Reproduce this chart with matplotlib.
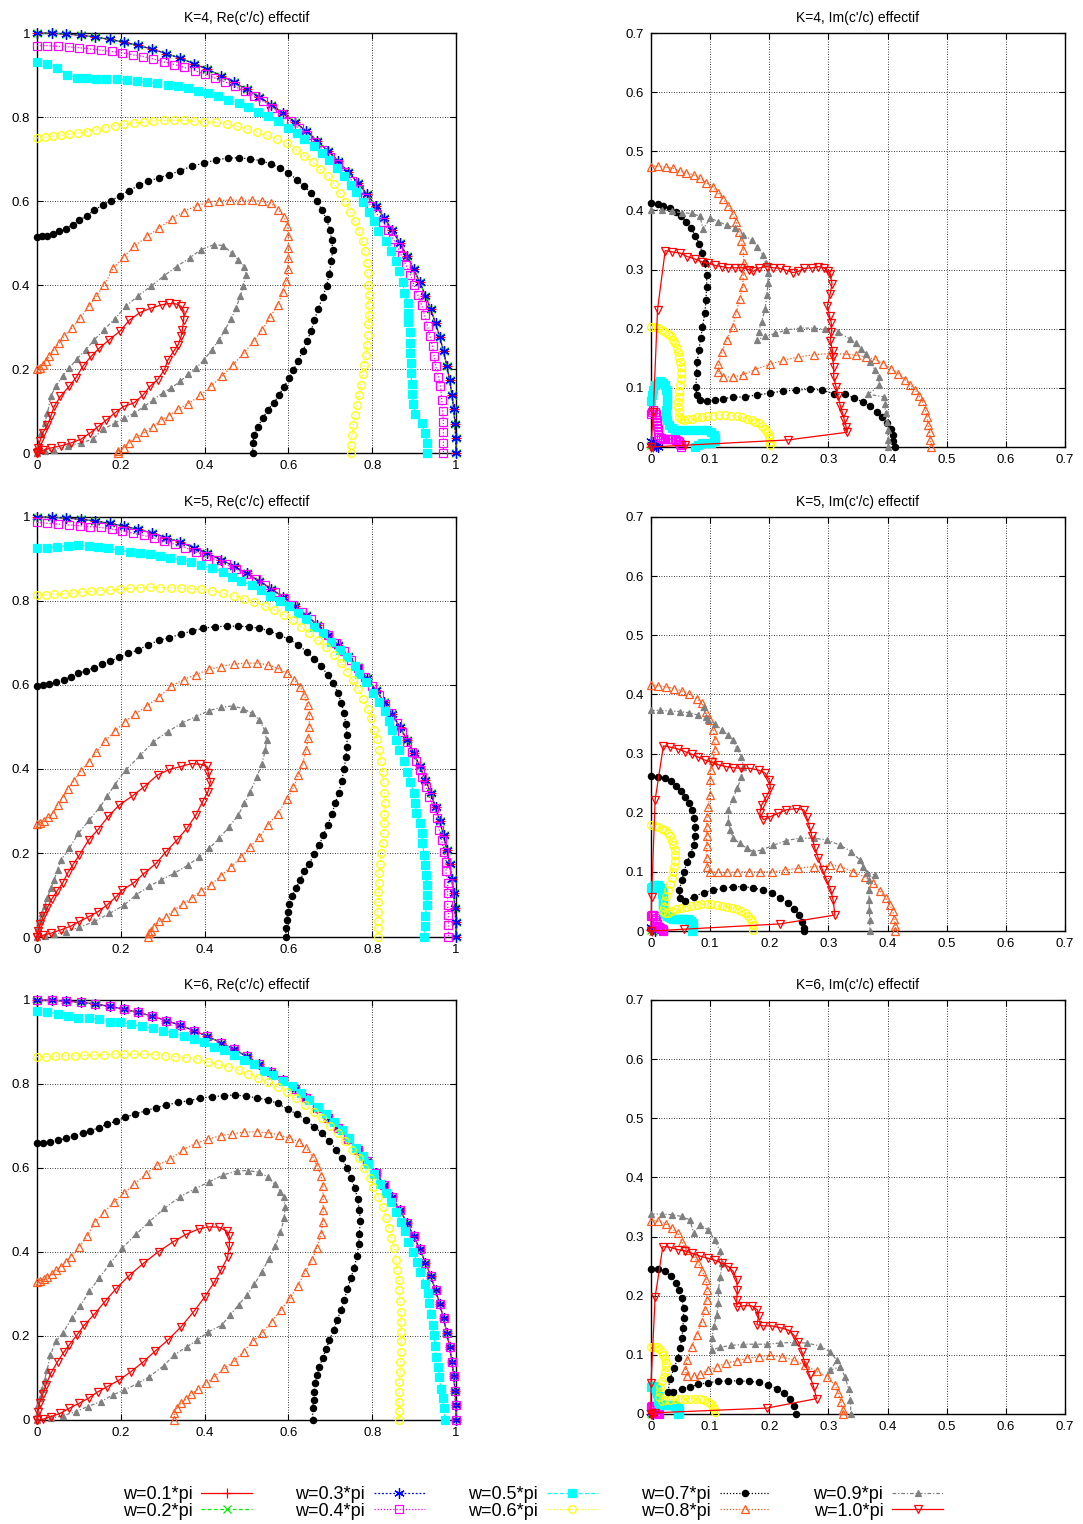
import matplotlib
matplotlib.use("Agg")
import matplotlib.pyplot as plt
from matplotlib.ticker import MultipleLocator, FuncFormatter

plt.rcParams['font.family'] = ['Liberation Sans', 'DejaVu Sans']

# legend labels, one per w
w_labels = ['w=0.1*pi', 'w=0.2*pi', 'w=0.3*pi', 'w=0.4*pi', 'w=0.5*pi',
            'w=0.6*pi', 'w=0.7*pi', 'w=0.8*pi', 'w=0.9*pi', 'w=1.0*pi']

# ---- data (x, y) ----
# points on the unit quarter circle (w=0.1, 0.2, 0.3 sit on it)
arc_pts = [(0,1),(0.0349,0.9994),(0.0698,0.9976),(0.1045,0.9945),(0.1392,0.9903),(0.1736,0.9848),
           (0.2079,0.9781),(0.2419,0.9703),(0.2756,0.9613),(0.309,0.9511),(0.342,0.9397),(0.3746,0.9272),
           (0.4067,0.9135),(0.4384,0.8988),(0.4695,0.8829),(0.5,0.866),(0.5299,0.848),(0.5592,0.829),
           (0.5878,0.809),(0.6157,0.788),(0.6428,0.766),(0.6691,0.7431),(0.6947,0.7193),(0.7193,0.6947),
           (0.7431,0.6691),(0.766,0.6428),(0.788,0.6157),(0.809,0.5878),(0.829,0.5592),(0.848,0.5299),
           (0.866,0.5),(0.8829,0.4695),(0.8988,0.4384),(0.9135,0.4067),(0.9272,0.3746),(0.9397,0.342),
           (0.9511,0.309),(0.9613,0.2756),(0.9703,0.2419),(0.9781,0.2079),(0.9848,0.1736),(0.9903,0.1392),
           (0.9945,0.1045),(0.9976,0.0698),(0.9994,0.0349),(1,0)]

# K=4, Re
re4_w04 = [(0,0.970),(0.025,0.970),(0.051,0.968),(0.076,0.967),(0.1,0.965),(0.127,0.962),(0.153,0.959),
           (0.178,0.956),(0.203,0.953),(0.229,0.948),(0.254,0.944),(0.278,0.938),(0.304,0.931),(0.328,0.925),
           (0.352,0.918),(0.378,0.91),(0.4,0.902),(0.424,0.893),(0.448,0.884),(0.472,0.873),(0.496,0.861),
           (0.518,0.85),(0.54,0.838),(0.562,0.822),(0.584,0.808),(0.606,0.79),(0.625,0.774),(0.645,0.757),
           (0.664,0.74),(0.683,0.722),(0.7,0.705),(0.718,0.687),(0.735,0.668),(0.752,0.648),(0.768,0.628),
           (0.783,0.607),(0.797,0.588),(0.812,0.568),(0.826,0.55),(0.838,0.53),(0.85,0.51),(0.861,0.49),
           (0.871,0.468),(0.881,0.447),(0.891,0.424),(0.9,0.4),(0.909,0.376),(0.918,0.353),(0.925,0.328),
           (0.932,0.302),(0.938,0.278),(0.944,0.254),(0.948,0.23),(0.952,0.206),(0.958,0.182),(0.963,0.159),
           (0.966,0.127),(0.968,0.1),(0.97,0.075),(0.97,0.05),(0.97,0.025),(0.97,0.0)]
re4_w05 = [(0,0.932),(0.024,0.927),(0.048,0.917),(0.072,0.901),(0.095,0.893),(0.117,0.893),(0.141,0.891),
           (0.165,0.89),(0.19,0.89),(0.214,0.888),(0.238,0.885),(0.262,0.883),(0.286,0.88),(0.312,0.876),
           (0.336,0.873),(0.36,0.868),(0.384,0.863),(0.409,0.857),(0.433,0.849),(0.457,0.841),(0.481,0.833),
           (0.504,0.823),(0.528,0.813),(0.551,0.802),(0.574,0.79),(0.598,0.775),(0.62,0.763),(0.638,0.748),
           (0.66,0.73),(0.679,0.714),(0.698,0.697),(0.716,0.679),(0.733,0.66),(0.749,0.639),(0.761,0.621),
           (0.777,0.597),(0.792,0.574),(0.804,0.552),(0.815,0.529),(0.833,0.504),(0.845,0.48),(0.857,0.456),
           (0.863,0.433),(0.873,0.407),(0.877,0.381),(0.885,0.357),(0.886,0.333),(0.886,0.311),(0.89,0.287),
           (0.89,0.262),(0.891,0.238),(0.893,0.214),(0.893,0.19),(0.894,0.165),(0.895,0.141),(0.897,0.117),
           (0.903,0.094),(0.918,0.071),(0.926,0.048),(0.931,0.024),(0.931,0.0)]
re4_w06 = [(0,0.75),(0.018,0.752),(0.037,0.754),(0.057,0.756),(0.077,0.759),(0.099,0.762),(0.119,0.765),
           (0.141,0.77),(0.162,0.775),(0.185,0.779),(0.208,0.783),(0.231,0.786),(0.255,0.788),(0.278,0.791),
           (0.304,0.792),(0.328,0.792),(0.352,0.792),(0.375,0.79),(0.399,0.789),(0.427,0.787),(0.453,0.783),
           (0.477,0.778),(0.501,0.772),(0.525,0.764),(0.549,0.756),(0.573,0.748),(0.596,0.737),(0.618,0.722),
           (0.638,0.708),(0.658,0.693),(0.676,0.676),(0.694,0.659),(0.71,0.64),(0.724,0.619),(0.736,0.598),
           (0.748,0.575),(0.759,0.552),(0.769,0.528),(0.777,0.504),(0.783,0.48),(0.787,0.452),(0.789,0.429),
           (0.791,0.401),(0.792,0.377),(0.792,0.353),(0.792,0.329),(0.791,0.306),(0.789,0.282),(0.788,0.258),
           (0.785,0.234),(0.781,0.21),(0.777,0.187),(0.773,0.163),(0.768,0.139),(0.764,0.115),(0.76,0.091),
           (0.755,0.067),(0.752,0.044),(0.749,0.02),(0.749,0.0)]
re4_w07 = [(0,0.514),(0.011,0.516),(0.024,0.517),(0.039,0.521),(0.053,0.528),(0.069,0.534),(0.085,0.544),
           (0.101,0.554),(0.119,0.565),(0.137,0.578),(0.157,0.591),(0.177,0.601),(0.198,0.613),(0.22,0.625),
           (0.243,0.637),(0.266,0.647),(0.29,0.655),(0.316,0.663),(0.342,0.672),(0.369,0.683),(0.398,0.69),
           (0.427,0.698),(0.455,0.702),(0.483,0.703),(0.509,0.7),(0.535,0.696),(0.558,0.688),(0.581,0.679),
           (0.6,0.667),(0.62,0.651),(0.638,0.635),(0.654,0.619),(0.668,0.599),(0.68,0.579),(0.691,0.556),
           (0.699,0.532),(0.703,0.508),(0.706,0.483),(0.702,0.456),(0.698,0.427),(0.691,0.398),(0.682,0.371),
           (0.671,0.343),(0.662,0.316),(0.654,0.29),(0.644,0.266),(0.634,0.242),(0.622,0.218),(0.612,0.197),
           (0.602,0.179),(0.589,0.157),(0.578,0.139),(0.565,0.119),(0.551,0.103),(0.539,0.083),(0.527,0.063),
           (0.519,0.044),(0.515,0.024),(0.515,0.0)]
re4_w08 = [(0,0.2),(0.006,0.202),(0.014,0.21),(0.021,0.218),(0.029,0.23),(0.041,0.246),(0.053,0.262),
           (0.065,0.278),(0.084,0.298),(0.103,0.321),(0.123,0.349),(0.141,0.373),(0.161,0.401),(0.182,0.44),
           (0.207,0.467),(0.232,0.492),(0.263,0.516),(0.292,0.536),(0.322,0.558),(0.35,0.575),(0.382,0.589),
           (0.409,0.597),(0.435,0.601),(0.461,0.602),(0.487,0.602),(0.512,0.602),(0.536,0.6),(0.558,0.595),
           (0.576,0.579),(0.59,0.562),(0.597,0.54),(0.6,0.516),(0.6,0.488),(0.6,0.464),(0.598,0.437),
           (0.595,0.41),(0.587,0.383),(0.574,0.353),(0.557,0.324),(0.538,0.294),(0.517,0.266),(0.493,0.237),
           (0.467,0.209),(0.441,0.183),(0.415,0.159),(0.39,0.137),(0.36,0.117),(0.337,0.105),(0.316,0.089),
           (0.296,0.078),(0.276,0.063),(0.256,0.049),(0.236,0.037),(0.22,0.024),(0.207,0.013),(0.194,0.004),
           (0.193,0.0)]
re4_w09 = [(0,0),(0.004,0.02),(0.01,0.048),(0.018,0.071),(0.025,0.095),(0.033,0.135),(0.045,0.159),
           (0.061,0.183),(0.077,0.202),(0.095,0.224),(0.117,0.246),(0.137,0.27),(0.161,0.294),(0.185,0.319),
           (0.212,0.349),(0.242,0.375),(0.272,0.397),(0.302,0.421),(0.333,0.444),(0.364,0.464),(0.391,0.484),
           (0.422,0.496),(0.445,0.494),(0.465,0.476),(0.48,0.46),(0.495,0.444),(0.499,0.425),(0.492,0.397),
           (0.485,0.373),(0.475,0.345),(0.463,0.319),(0.449,0.294),(0.435,0.27),(0.417,0.246),(0.399,0.222),
           (0.379,0.202),(0.361,0.187),(0.342,0.171),(0.321,0.155),(0.3,0.143),(0.278,0.127),(0.256,0.111),
           (0.232,0.095),(0.208,0.083),(0.185,0.071),(0.157,0.056),(0.133,0.033),(0.105,0.024),(0.073,0.016),
           (0.041,0.008),(0.018,0.004),(0,0)]
re4_w10 = [(0,0),(0.003,0.012),(0.007,0.028),(0.014,0.048),(0.025,0.067),(0.033,0.087),(0.041,0.111),
           (0.056,0.135),(0.077,0.159),(0.093,0.179),(0.109,0.206),(0.129,0.23),(0.149,0.25),(0.173,0.27),
           (0.199,0.291),(0.22,0.316),(0.247,0.335),(0.272,0.345),(0.298,0.353),(0.316,0.356),(0.332,0.355),
           (0.344,0.349),(0.351,0.337),(0.35,0.317),(0.347,0.294),(0.344,0.278),(0.337,0.258),(0.326,0.242),
           (0.312,0.221),(0.304,0.198),(0.288,0.175),(0.27,0.159),(0.252,0.137),(0.231,0.119),(0.207,0.111),
           (0.185,0.095),(0.165,0.078),(0.146,0.063),(0.127,0.048),(0.105,0.033),(0.081,0.024),(0.057,0.017),
           (0.033,0.012),(0.014,0.006),(0.002,0.002),(0,0)]

# K=5, Re
re5_w04 = [(0,0.987),(0.025,0.985),(0.051,0.983),(0.077,0.981),(0.103,0.979),(0.127,0.977),(0.153,0.975),
           (0.179,0.971),(0.204,0.967),(0.23,0.961),(0.255,0.956),(0.28,0.949),(0.304,0.943),(0.329,0.935),
           (0.354,0.927),(0.379,0.917),(0.403,0.908),(0.427,0.898),(0.451,0.887),(0.475,0.876),(0.499,0.864),
           (0.522,0.852),(0.545,0.838),(0.568,0.822),(0.59,0.806),(0.612,0.79),(0.633,0.773),(0.654,0.756),
           (0.674,0.738),(0.694,0.72),(0.713,0.7),(0.732,0.68),(0.75,0.66),(0.767,0.64),(0.784,0.62),
           (0.8,0.598),(0.816,0.576),(0.83,0.555),(0.845,0.533),(0.858,0.51),(0.871,0.488),(0.883,0.465),
           (0.895,0.441),(0.905,0.418),(0.913,0.398),(0.92,0.382),(0.928,0.358),(0.936,0.334),(0.948,0.306),
           (0.955,0.283),(0.96,0.255),(0.966,0.231),(0.971,0.203),(0.976,0.179),(0.976,0.156),(0.98,0.128),
           (0.98,0.104),(0.98,0.076),(0.982,0.052),(0.982,0.029),(0.982,0.0)]
re5_w05 = [(0,0.925),(0.024,0.927),(0.048,0.929),(0.073,0.932),(0.097,0.933),(0.123,0.931),(0.146,0.928),
           (0.17,0.925),(0.196,0.921),(0.222,0.917),(0.247,0.915),(0.27,0.911),(0.294,0.907),(0.318,0.903),
           (0.344,0.898),(0.368,0.892),(0.391,0.885),(0.418,0.878),(0.443,0.87),(0.465,0.858),(0.488,0.848),
           (0.512,0.837),(0.535,0.826),(0.557,0.813),(0.58,0.801),(0.601,0.787),(0.622,0.771),(0.642,0.756),
           (0.662,0.739),(0.682,0.723),(0.702,0.703),(0.722,0.683),(0.741,0.666),(0.76,0.646),(0.769,0.626),
           (0.785,0.606),(0.801,0.582),(0.817,0.56),(0.831,0.537),(0.839,0.514),(0.847,0.493),(0.857,0.469),
           (0.865,0.445),(0.877,0.419),(0.883,0.394),(0.891,0.37),(0.899,0.342),(0.903,0.318),(0.905,0.296),
           (0.913,0.271),(0.918,0.247),(0.92,0.223),(0.924,0.195),(0.926,0.171),(0.928,0.148),(0.93,0.124),
           (0.931,0.1),(0.931,0.076),(0.926,0.05),(0.926,0.026),(0.924,0.0)]
re5_w06 = [(0,0.814),(0.021,0.815),(0.041,0.816),(0.064,0.817),(0.085,0.818),(0.107,0.821),(0.129,0.823),
           (0.151,0.825),(0.174,0.826),(0.198,0.828),(0.222,0.83),(0.247,0.832),(0.27,0.833),(0.294,0.832),
           (0.32,0.832),(0.344,0.83),(0.368,0.829),(0.391,0.828),(0.418,0.825),(0.443,0.818),(0.469,0.813),
           (0.495,0.805),(0.519,0.797),(0.543,0.788),(0.566,0.779),(0.589,0.767),(0.61,0.755),(0.63,0.739),
           (0.65,0.725),(0.67,0.707),(0.69,0.691),(0.708,0.671),(0.726,0.652),(0.741,0.632),(0.753,0.612),
           (0.767,0.59),(0.779,0.567),(0.789,0.544),(0.797,0.521),(0.805,0.494),(0.812,0.471),(0.817,0.445),
           (0.821,0.42),(0.825,0.394),(0.827,0.37),(0.829,0.344),(0.831,0.318),(0.829,0.294),(0.829,0.271),
           (0.827,0.247),(0.825,0.223),(0.821,0.199),(0.819,0.175),(0.817,0.152),(0.817,0.128),(0.815,0.106),
           (0.815,0.084),(0.813,0.06),(0.813,0.039),(0.813,0.021),(0.813,0.0)]
re5_w07 = [(0,0.598),(0.014,0.599),(0.029,0.602),(0.045,0.606),(0.064,0.612),(0.081,0.62),(0.099,0.628),
           (0.117,0.634),(0.135,0.641),(0.154,0.649),(0.175,0.657),(0.196,0.666),(0.218,0.675),(0.24,0.683),
           (0.264,0.695),(0.29,0.706),(0.316,0.713),(0.344,0.721),(0.37,0.729),(0.397,0.735),(0.425,0.739),
           (0.453,0.74),(0.479,0.74),(0.505,0.739),(0.531,0.735),(0.554,0.729),(0.578,0.719),(0.602,0.709),
           (0.624,0.695),(0.644,0.679),(0.662,0.663),(0.678,0.645),(0.694,0.624),(0.707,0.604),(0.718,0.582),
           (0.726,0.558),(0.733,0.533),(0.737,0.507),(0.74,0.481),(0.74,0.453),(0.737,0.428),(0.733,0.399),
           (0.727,0.371),(0.72,0.344),(0.712,0.318),(0.703,0.292),(0.694,0.267),(0.683,0.243),(0.674,0.219),
           (0.662,0.198),(0.65,0.175),(0.638,0.156),(0.628,0.136),(0.618,0.116),(0.609,0.098),(0.602,0.079),
           (0.598,0.059),(0.596,0.04),(0.594,0.021),(0.594,0.0)]
re5_w08 = [(0,0.269),(0.008,0.272),(0.017,0.277),(0.027,0.285),(0.037,0.294),(0.049,0.314),(0.061,0.332),
           (0.073,0.352),(0.088,0.372),(0.105,0.396),(0.123,0.417),(0.142,0.441),(0.163,0.467),(0.186,0.491),
           (0.21,0.513),(0.235,0.531),(0.262,0.55),(0.292,0.572),(0.321,0.598),(0.35,0.613),(0.379,0.625),
           (0.411,0.637),(0.438,0.644),(0.471,0.65),(0.499,0.652),(0.525,0.652),(0.551,0.648),(0.574,0.64),
           (0.597,0.628),(0.614,0.612),(0.628,0.596),(0.638,0.576),(0.646,0.552),(0.65,0.529),(0.65,0.501),
           (0.647,0.473),(0.642,0.445),(0.634,0.413),(0.624,0.386),(0.612,0.356),(0.597,0.328),(0.574,0.294),
           (0.551,0.267),(0.531,0.237),(0.509,0.215),(0.487,0.19),(0.463,0.167),(0.439,0.145),(0.415,0.125),
           (0.391,0.11),(0.369,0.092),(0.348,0.079),(0.326,0.063),(0.308,0.048),(0.292,0.037),(0.28,0.025),
           (0.272,0.015),(0.268,0.009),(0.264,0.0)]
re5_w09 = [(0,0),(0.002,0.021),(0.006,0.039),(0.011,0.056),(0.018,0.074),(0.024,0.092),(0.033,0.116),
           (0.041,0.136),(0.049,0.16),(0.057,0.183),(0.077,0.211),(0.099,0.247),(0.125,0.279),(0.151,0.31),
           (0.168,0.336),(0.185,0.362),(0.212,0.398),(0.247,0.433),(0.278,0.465),(0.312,0.489),(0.347,0.51),
           (0.379,0.525),(0.411,0.539),(0.439,0.547),(0.467,0.55),(0.491,0.544),(0.512,0.533),(0.531,0.517),
           (0.543,0.493),(0.548,0.469),(0.545,0.445),(0.537,0.413),(0.525,0.382),(0.509,0.346),(0.495,0.318),
           (0.48,0.29),(0.459,0.263),(0.435,0.235),(0.411,0.211),(0.387,0.19),(0.36,0.171),(0.328,0.152),
           (0.296,0.136),(0.268,0.121),(0.236,0.1),(0.208,0.076),(0.173,0.056),(0.137,0.037),(0.101,0.023),
           (0.069,0.013),(0.041,0.006),(0.018,0.002),(0,0)]
re5_w10 = [(0,0),(0.003,0.015),(0.008,0.03),(0.015,0.05),(0.025,0.07),(0.035,0.09),(0.048,0.11),
           (0.061,0.128),(0.073,0.152),(0.085,0.171),(0.101,0.195),(0.123,0.231),(0.145,0.255),(0.17,0.287),
           (0.196,0.314),(0.228,0.336),(0.256,0.358),(0.288,0.386),(0.316,0.399),(0.344,0.406),(0.369,0.413),
           (0.39,0.411),(0.406,0.406),(0.409,0.39),(0.414,0.37),(0.408,0.346),(0.395,0.322),(0.379,0.29),
           (0.358,0.259),(0.334,0.231),(0.308,0.203),(0.284,0.175),(0.256,0.152),(0.231,0.129),(0.204,0.112),
           (0.189,0.096),(0.167,0.076),(0.145,0.06),(0.123,0.048),(0.101,0.037),(0.081,0.026),(0.057,0.017),
           (0.033,0.009),(0.014,0.004),(0,0)]

# K=6, Re
re6_w05 = [(0,0.974),(0.024,0.971),(0.049,0.967),(0.073,0.962),(0.099,0.956),(0.125,0.956),(0.149,0.954),
           (0.175,0.948),(0.199,0.947),(0.224,0.942),(0.251,0.937),(0.276,0.933),(0.3,0.927),(0.325,0.921),
           (0.35,0.914),(0.375,0.907),(0.399,0.899),(0.423,0.889),(0.447,0.881),(0.471,0.869),(0.495,0.857),
           (0.519,0.847),(0.541,0.832),(0.564,0.821),(0.586,0.807),(0.608,0.795),(0.63,0.778),(0.65,0.762),
           (0.67,0.746),(0.69,0.729),(0.708,0.71),(0.727,0.69),(0.744,0.671),(0.761,0.648),(0.777,0.629),
           (0.791,0.609),(0.805,0.586),(0.819,0.563),(0.833,0.54),(0.846,0.518),(0.857,0.496),(0.869,0.472),
           (0.878,0.45),(0.886,0.425),(0.897,0.399),(0.908,0.377),(0.915,0.352),(0.926,0.325),(0.932,0.302),
           (0.935,0.278),(0.94,0.252),(0.944,0.226),(0.947,0.202),(0.95,0.177),(0.952,0.151),(0.958,0.127),
           (0.96,0.103),(0.964,0.075),(0.968,0.052),(0.971,0.028),(0.974,0.0)]
re6_w06 = [(0,0.865),(0.021,0.865),(0.044,0.866),(0.068,0.867),(0.091,0.867),(0.113,0.868),(0.137,0.869),
           (0.161,0.87),(0.185,0.871),(0.208,0.871),(0.232,0.871),(0.256,0.871),(0.282,0.869),(0.306,0.867),
           (0.329,0.865),(0.356,0.863),(0.382,0.86),(0.407,0.853),(0.431,0.847),(0.457,0.841),(0.481,0.833),
           (0.504,0.825),(0.528,0.815),(0.551,0.804),(0.574,0.794),(0.597,0.78),(0.618,0.766),(0.64,0.75),
           (0.66,0.734),(0.68,0.718),(0.7,0.701),(0.718,0.683),(0.735,0.664),(0.751,0.643),(0.769,0.623),
           (0.781,0.599),(0.795,0.577),(0.803,0.554),(0.815,0.532),(0.825,0.508),(0.833,0.482),(0.841,0.458),
           (0.845,0.433),(0.853,0.409),(0.857,0.381),(0.859,0.357),(0.863,0.333),(0.865,0.31),(0.866,0.283),
           (0.869,0.258),(0.869,0.234),(0.869,0.21),(0.869,0.187),(0.869,0.163),(0.867,0.139),(0.867,0.115),
           (0.865,0.091),(0.865,0.067),(0.863,0.044),(0.863,0.021),(0.863,0.0)]
re6_w07 = [(0,0.659),(0.014,0.66),(0.032,0.663),(0.051,0.666),(0.069,0.671),(0.089,0.676),(0.109,0.683),
           (0.127,0.688),(0.147,0.696),(0.167,0.704),(0.189,0.712),(0.211,0.721),(0.235,0.729),(0.259,0.736),
           (0.284,0.744),(0.309,0.75),(0.336,0.756),(0.362,0.76),(0.389,0.766),(0.418,0.77),(0.446,0.772),
           (0.473,0.774),(0.499,0.771),(0.525,0.767),(0.551,0.762),(0.574,0.754),(0.598,0.74),(0.621,0.728),
           (0.642,0.714),(0.662,0.698),(0.68,0.683),(0.698,0.664),(0.714,0.644),(0.727,0.623),(0.74,0.601),
           (0.749,0.577),(0.759,0.552),(0.765,0.526),(0.769,0.5),(0.772,0.474),(0.769,0.444),(0.768,0.418),
           (0.764,0.391),(0.757,0.363),(0.749,0.337),(0.741,0.312),(0.733,0.286),(0.726,0.262),(0.716,0.238),
           (0.708,0.214),(0.698,0.19),(0.69,0.169),(0.682,0.148),(0.674,0.127),(0.668,0.107),(0.664,0.087),
           (0.662,0.067),(0.66,0.048),(0.658,0.028),(0.658,0.0)]
re6_w08 = [(0,0.329),(0.008,0.332),(0.016,0.335),(0.025,0.34),(0.035,0.347),(0.045,0.356),(0.057,0.365),
           (0.069,0.377),(0.081,0.389),(0.101,0.413),(0.119,0.437),(0.138,0.471),(0.159,0.494),(0.183,0.518),
           (0.207,0.54),(0.232,0.561),(0.259,0.585),(0.286,0.606),(0.318,0.621),(0.348,0.643),(0.379,0.659),
           (0.409,0.669),(0.438,0.677),(0.465,0.681),(0.495,0.686),(0.524,0.686),(0.551,0.684),(0.578,0.679),
           (0.602,0.671),(0.625,0.663),(0.642,0.647),(0.658,0.627),(0.668,0.605),(0.678,0.582),(0.682,0.556),
           (0.683,0.528),(0.683,0.5),(0.682,0.471),(0.678,0.442),(0.668,0.41),(0.656,0.381),(0.64,0.352),
           (0.622,0.32),(0.604,0.29),(0.582,0.262),(0.56,0.234),(0.537,0.206),(0.515,0.187),(0.493,0.163),
           (0.471,0.14),(0.447,0.123),(0.423,0.103),(0.403,0.087),(0.385,0.074),(0.368,0.061),(0.356,0.05),
           (0.344,0.04),(0.334,0.028),(0.328,0.016),(0.326,0.0)]
re6_w09 = [(0,0),(0.002,0.016),(0.003,0.036),(0.008,0.053),(0.012,0.075),(0.018,0.095),(0.024,0.119),
           (0.032,0.155),(0.045,0.187),(0.061,0.206),(0.083,0.242),(0.103,0.272),(0.125,0.306),(0.149,0.339),
           (0.175,0.373),(0.204,0.41),(0.236,0.442),(0.268,0.472),(0.304,0.504),(0.342,0.532),(0.376,0.55),
           (0.411,0.567),(0.443,0.583),(0.477,0.593),(0.503,0.594),(0.53,0.59),(0.551,0.579),(0.567,0.562),
           (0.581,0.544),(0.589,0.53),(0.592,0.508),(0.59,0.48),(0.581,0.447),(0.569,0.414),(0.553,0.383),
           (0.536,0.352),(0.519,0.323),(0.501,0.298),(0.481,0.274),(0.461,0.25),(0.441,0.226),(0.409,0.21),
           (0.383,0.19),(0.358,0.175),(0.328,0.155),(0.302,0.129),(0.268,0.103),(0.24,0.087),(0.208,0.071),
           (0.181,0.06),(0.153,0.044),(0.121,0.032),(0.093,0.02),(0.061,0.01),(0.033,0.004),(0,0)]
re6_w10 = [(0,0),(0.002,0.02),(0.006,0.04),(0.014,0.063),(0.021,0.083),(0.033,0.111),(0.049,0.139),
           (0.065,0.163),(0.077,0.179),(0.095,0.202),(0.113,0.226),(0.137,0.252),(0.162,0.282),(0.189,0.313),
           (0.22,0.344),(0.254,0.373),(0.29,0.401),(0.326,0.425),(0.356,0.442),(0.386,0.455),(0.411,0.46),
           (0.435,0.459),(0.453,0.45),(0.459,0.437),(0.459,0.415),(0.455,0.387),(0.439,0.357),(0.423,0.328),
           (0.401,0.294),(0.374,0.258),(0.344,0.222),(0.312,0.19),(0.282,0.164),(0.252,0.137),(0.224,0.115),
           (0.196,0.095),(0.167,0.079),(0.145,0.067),(0.123,0.052),(0.101,0.04),(0.077,0.028),(0.056,0.016),
           (0.033,0.008),(0.014,0.002),(0,0)]

# K=4, Im
im4_w01 = [(0,0.0),(0.002,0.001),(0.003,0.0)]
im4_w02 = [(0,0.003),(0.003,0.002),(0.006,0.0)]
im4_w03 = [(0,0.01),(0.003,0.008),(0.005,0.004),(0.008,0.002),(0.012,0.0)]
im4_w04 = [(0,0.055),(0.002,0.06),(0.004,0.062),(0.006,0.059),(0.008,0.055),(0.009,0.05),(0.01,0.045),
           (0.01,0.04),(0.01,0.035),(0.011,0.03),(0.011,0.025),(0.012,0.021),(0.014,0.017),(0.017,0.015),
           (0.02,0.013),(0.024,0.013),(0.028,0.013),(0.032,0.013),(0.036,0.013),(0.04,0.013),(0.043,0.012),
           (0.046,0.01),(0.048,0.008),(0.049,0.005),(0.05,0.003),(0.05,0.0)]
im4_w05 = [(0,0.078),(0.002,0.088),(0.004,0.097),(0.007,0.104),(0.011,0.109),(0.015,0.111),(0.02,0.109),
           (0.024,0.104),(0.026,0.097),(0.027,0.089),(0.027,0.08),(0.027,0.071),(0.026,0.062),(0.026,0.053),
           (0.027,0.045),(0.03,0.038),(0.035,0.032),(0.041,0.029),(0.048,0.028),(0.056,0.028),(0.064,0.029),
           (0.072,0.029),(0.08,0.029),(0.088,0.029),(0.095,0.028),(0.101,0.026),(0.106,0.021),(0.109,0.015),
           (0.108,0.01),(0.102,0.007),(0.094,0.006),(0.086,0.006),(0.079,0.004),(0.075,0.0)]
im4_w06 = [(0,0.203),(0.006,0.203),(0.012,0.201),(0.018,0.198),(0.024,0.195),(0.029,0.191),(0.033,0.187),
           (0.037,0.181),(0.041,0.175),(0.044,0.168),(0.046,0.161),(0.048,0.153),(0.049,0.144),(0.05,0.135),
           (0.05,0.125),(0.05,0.115),(0.049,0.105),(0.048,0.095),(0.047,0.085),(0.046,0.076),(0.046,0.068),
           (0.047,0.059),(0.048,0.051),(0.051,0.047),(0.055,0.046),(0.062,0.047),(0.069,0.048),(0.077,0.05),
           (0.086,0.051),(0.095,0.052),(0.105,0.053),(0.115,0.054),(0.125,0.054),(0.135,0.053),(0.145,0.052),
           (0.154,0.05),(0.162,0.048),(0.17,0.045),(0.176,0.043),(0.182,0.04),(0.187,0.036),(0.192,0.031),
           (0.196,0.026),(0.199,0.02),(0.2,0.015),(0.201,0.009),(0.201,0.003)]
im4_w07 = [(0,0.412),(0.011,0.411),(0.021,0.408),(0.032,0.404),(0.042,0.398),(0.05,0.391),(0.059,0.381),
           (0.068,0.37),(0.075,0.357),(0.082,0.343),(0.087,0.328),(0.091,0.311),(0.094,0.291),(0.094,0.271),
           (0.093,0.249),(0.091,0.226),(0.087,0.203),(0.084,0.184),(0.081,0.164),(0.078,0.144),(0.077,0.125),
           (0.076,0.102),(0.077,0.088),(0.083,0.079),(0.094,0.078),(0.108,0.079),(0.122,0.082),(0.139,0.084),
           (0.159,0.085),(0.179,0.088),(0.201,0.091),(0.224,0.095),(0.246,0.096),(0.269,0.098),(0.289,0.096),
           (0.31,0.09),(0.328,0.089),(0.344,0.083),(0.358,0.076),(0.371,0.069),(0.382,0.059),(0.391,0.051),
           (0.399,0.041),(0.405,0.03),(0.409,0.021),(0.41,0.01),(0.412,0.0)]
im4_w08 = [(0,0.474),(0.012,0.475),(0.025,0.473),(0.037,0.471),(0.049,0.467),(0.06,0.464),(0.072,0.46),
           (0.083,0.454),(0.093,0.447),(0.104,0.44),(0.114,0.43),(0.122,0.419),(0.131,0.408),(0.138,0.394),
           (0.144,0.381),(0.149,0.364),(0.153,0.348),(0.156,0.333),(0.157,0.311),(0.156,0.291),(0.155,0.271),
           (0.15,0.251),(0.144,0.227),(0.138,0.203),(0.128,0.181),(0.12,0.161),(0.114,0.141),(0.114,0.127),
           (0.122,0.119),(0.139,0.118),(0.155,0.122),(0.176,0.131),(0.201,0.14),(0.224,0.147),(0.249,0.152),
           (0.275,0.156),(0.303,0.158),(0.33,0.157),(0.347,0.155),(0.364,0.152),(0.379,0.148),(0.393,0.14),
           (0.406,0.132),(0.418,0.124),(0.429,0.114),(0.438,0.105),(0.447,0.096),(0.453,0.086),(0.459,0.077),
           (0.464,0.062),(0.467,0.05),(0.469,0.038),(0.471,0.025),(0.472,0.012),(0.474,0.0)]
im4_w09 = [(0,0.401),(0.018,0.401),(0.035,0.399),(0.052,0.396),(0.069,0.395),(0.083,0.39),(0.088,0.368),
           (0.1,0.387),(0.114,0.381),(0.128,0.375),(0.142,0.37),(0.156,0.359),(0.17,0.35),(0.18,0.339),
           (0.189,0.325),(0.194,0.311),(0.198,0.294),(0.198,0.277),(0.196,0.257),(0.193,0.234),(0.187,0.212),
           (0.182,0.195),(0.179,0.181),(0.193,0.187),(0.21,0.192),(0.229,0.198),(0.252,0.201),(0.275,0.201),
           (0.294,0.199),(0.316,0.194),(0.336,0.183),(0.347,0.175),(0.355,0.166),(0.364,0.158),(0.371,0.144),
           (0.378,0.131),(0.385,0.118),(0.386,0.104),(0.367,0.089),(0.394,0.085),(0.395,0.073),(0.397,0.057),
           (0.399,0.042),(0.4,0.028),(0.4,0.011),(0.4,0.0)]
im4_w10 = [(0,0),(0.004,0.06),(0.011,0.232),(0.024,0.332),(0.035,0.33),(0.049,0.328),(0.061,0.322),
           (0.074,0.318),(0.086,0.313),(0.097,0.311),(0.108,0.307),(0.12,0.305),(0.131,0.303),(0.142,0.303),
           (0.153,0.303),(0.165,0.3),(0.173,0.297),(0.183,0.303),(0.196,0.305),(0.207,0.303),(0.218,0.302),
           (0.228,0.299),(0.24,0.295),(0.249,0.297),(0.259,0.302),(0.272,0.303),(0.283,0.305),(0.293,0.303),
           (0.3,0.297),(0.303,0.293),(0.306,0.276),(0.303,0.259),(0.298,0.238),(0.302,0.221),(0.305,0.209),
           (0.305,0.194),(0.303,0.18),(0.307,0.163),(0.307,0.152),(0.309,0.135),(0.309,0.118),(0.313,0.101),
           (0.316,0.087),(0.32,0.07),(0.324,0.057),(0.327,0.045),(0.33,0.034),(0.332,0.025),(0.232,0.012),
           (0.057,0.003),(0,0)]

# K=5, Im
im5_w01 = [(0,0.001),(0.001,0.0)]
im5_w02 = [(0,0.002),(0.003,0.0)]
im5_w03 = [(0,0.006),(0.004,0.004),(0.007,0.0)]
im5_w04 = [(0,0.025),(0.002,0.027),(0.004,0.027),(0.006,0.025),(0.008,0.022),(0.009,0.018),(0.009,0.015),
           (0.01,0.012),(0.01,0.009),(0.012,0.007),(0.014,0.006),(0.016,0.005),(0.018,0.004),(0.02,0.002),
           (0.02,0.0)]
im5_w05 = [(0,0.072),(0.002,0.075),(0.005,0.077),(0.008,0.078),(0.011,0.077),(0.014,0.075),(0.016,0.072),
           (0.018,0.068),(0.019,0.063),(0.02,0.058),(0.02,0.053),(0.02,0.048),(0.02,0.044),(0.021,0.04),
           (0.021,0.036),(0.022,0.032),(0.024,0.028),(0.027,0.025),(0.03,0.023),(0.034,0.022),(0.038,0.021),
           (0.042,0.021),(0.046,0.021),(0.05,0.021),(0.054,0.021),(0.058,0.021),(0.062,0.02),(0.065,0.019),
           (0.068,0.017),(0.07,0.014),(0.071,0.011),(0.071,0.008),(0.071,0.005),(0.07,0.0)]
im5_w06 = [(0,0.179),(0.006,0.178),(0.012,0.176),(0.018,0.173),(0.024,0.17),(0.028,0.165),(0.032,0.16),
           (0.035,0.153),(0.038,0.145),(0.04,0.137),(0.041,0.129),(0.041,0.119),(0.039,0.109),(0.037,0.099),
           (0.035,0.089),(0.032,0.079),(0.029,0.069),(0.026,0.059),(0.024,0.05),(0.022,0.041),(0.021,0.033),
           (0.024,0.031),(0.029,0.03),(0.036,0.034),(0.043,0.037),(0.051,0.039),(0.06,0.041),(0.068,0.043),
           (0.077,0.044),(0.085,0.045),(0.094,0.046),(0.102,0.045),(0.111,0.044),(0.12,0.043),(0.128,0.041),
           (0.137,0.039),(0.145,0.037),(0.152,0.034),(0.159,0.03),(0.164,0.026),(0.169,0.021),(0.171,0.016),
           (0.173,0.01),(0.173,0.002)]
im5_w07 = [(0,0.262),(0.012,0.261),(0.024,0.258),(0.034,0.253),(0.042,0.245),(0.051,0.237),(0.058,0.227),
           (0.064,0.216),(0.07,0.205),(0.073,0.191),(0.075,0.176),(0.074,0.16),(0.072,0.145),(0.067,0.131),
           (0.061,0.117),(0.056,0.1),(0.052,0.086),(0.048,0.069),(0.049,0.055),(0.057,0.051),(0.072,0.058),
           (0.089,0.065),(0.105,0.069),(0.122,0.072),(0.139,0.075),(0.156,0.075),(0.173,0.073),(0.19,0.069),
           (0.204,0.064),(0.218,0.056),(0.231,0.048),(0.242,0.038),(0.251,0.027),(0.256,0.016),(0.259,0.005),
           (0.259,0.0)]
im5_w08 = [(0,0.416),(0.012,0.415),(0.025,0.413),(0.039,0.41),(0.052,0.406),(0.065,0.401),(0.077,0.393),
           (0.086,0.385),(0.093,0.371),(0.1,0.357),(0.105,0.34),(0.108,0.323),(0.108,0.306),(0.105,0.289),
           (0.101,0.272),(0.1,0.255),(0.099,0.23),(0.097,0.21),(0.095,0.193),(0.094,0.176),(0.094,0.16),
           (0.094,0.143),(0.094,0.123),(0.095,0.109),(0.1,0.1),(0.114,0.099),(0.128,0.099),(0.145,0.1),
           (0.165,0.1),(0.184,0.1),(0.204,0.1),(0.227,0.103),(0.249,0.106),(0.275,0.109),(0.303,0.112),
           (0.32,0.109),(0.342,0.1),(0.362,0.091),(0.376,0.081),(0.387,0.068),(0.397,0.055),(0.404,0.044),
           (0.409,0.033),(0.411,0.021),(0.413,0.008),(0.413,0.0)]
im5_w09 = [(0,0.373),(0.015,0.373),(0.032,0.372),(0.049,0.371),(0.065,0.369),(0.08,0.365),(0.089,0.379),
           (0.093,0.362),(0.097,0.357),(0.108,0.35),(0.12,0.34),(0.131,0.331),(0.139,0.323),(0.145,0.309),
           (0.153,0.295),(0.156,0.278),(0.153,0.261),(0.146,0.241),(0.138,0.224),(0.131,0.205),(0.131,0.185),
           (0.134,0.171),(0.139,0.157),(0.15,0.148),(0.162,0.14),(0.173,0.134),(0.187,0.137),(0.207,0.145),
           (0.229,0.153),(0.252,0.157),(0.275,0.157),(0.297,0.154),(0.32,0.145),(0.339,0.134),(0.353,0.12),
           (0.359,0.109),(0.365,0.098),(0.379,0.095),(0.368,0.086),(0.368,0.069),(0.369,0.052),(0.369,0.036),
           (0.37,0.019),(0.37,0.0)]
im5_w10 = [(0,0),(0.001,0.058),(0.007,0.222),(0.021,0.313),(0.032,0.311),(0.045,0.308),(0.058,0.303),
           (0.069,0.299),(0.08,0.294),(0.091,0.289),(0.103,0.285),(0.114,0.281),(0.127,0.278),(0.139,0.276),
           (0.153,0.275),(0.167,0.275),(0.182,0.272),(0.193,0.267),(0.2,0.255),(0.202,0.241),(0.195,0.227),
           (0.187,0.213),(0.184,0.199),(0.19,0.188),(0.201,0.193),(0.215,0.199),(0.229,0.205),(0.246,0.207),
           (0.258,0.205),(0.263,0.193),(0.268,0.176),(0.272,0.16),(0.277,0.14),(0.283,0.123),(0.29,0.103),
           (0.297,0.086),(0.304,0.069),(0.308,0.052),(0.311,0.027),(0.218,0.012),(0.055,0.003),(0,0)]

# K=6, Im
im6_w01 = [(0,0.0005),(0.001,0.0)]
im6_w02 = [(0,0.001),(0.002,0.0)]
im6_w03 = [(0,0.004),(0.003,0.002),(0.004,0.0)]
im6_w04 = [(0,0.012),(0.002,0.013),(0.004,0.013),(0.005,0.01),(0.006,0.008),(0.007,0.006),(0.008,0.004),
           (0.01,0.003),(0.012,0.002),(0.014,0.0)]
im6_w05 = [(0,0.045),(0.002,0.047),(0.005,0.047),(0.007,0.044),(0.009,0.04),(0.01,0.035),(0.011,0.03),
           (0.011,0.026),(0.012,0.022),(0.014,0.019),(0.016,0.017),(0.02,0.016),(0.024,0.015),(0.028,0.015),
           (0.032,0.015),(0.036,0.015),(0.04,0.014),(0.043,0.012),(0.046,0.01),(0.047,0.007),(0.047,0.004),
           (0.045,0.0)]
im6_w06 = [(0,0.114),(0.005,0.114),(0.01,0.113),(0.014,0.11),(0.018,0.105),(0.021,0.1),(0.024,0.094),
           (0.025,0.087),(0.025,0.08),(0.024,0.071),(0.022,0.063),(0.019,0.055),(0.016,0.046),(0.015,0.037),
           (0.014,0.029),(0.018,0.022),(0.024,0.023),(0.032,0.024),(0.04,0.025),(0.049,0.025),(0.057,0.026),
           (0.066,0.026),(0.074,0.026),(0.083,0.025),(0.09,0.023),(0.097,0.021),(0.102,0.017),(0.105,0.012),
           (0.107,0.008),(0.108,0.004)]
im6_w07 = [(0,0.246),(0.012,0.245),(0.024,0.241),(0.033,0.233),(0.042,0.222),(0.048,0.21),(0.052,0.196),
           (0.055,0.179),(0.055,0.162),(0.054,0.145),(0.052,0.128),(0.049,0.111),(0.045,0.094),(0.039,0.077),
           (0.032,0.06),(0.029,0.038),(0.038,0.038),(0.052,0.043),(0.066,0.046),(0.08,0.05),(0.097,0.053),
           (0.114,0.055),(0.131,0.056),(0.148,0.056),(0.165,0.055),(0.182,0.054),(0.198,0.049),(0.213,0.043),
           (0.225,0.035),(0.235,0.025),(0.242,0.014),(0.245,0.0)]
im6_w08 = [(0,0.327),(0.012,0.326),(0.025,0.322),(0.035,0.314),(0.045,0.306),(0.052,0.291),(0.061,0.277),
           (0.072,0.266),(0.08,0.255),(0.087,0.241),(0.093,0.227),(0.095,0.21),(0.094,0.193),(0.091,0.176),
           (0.086,0.156),(0.077,0.134),(0.069,0.114),(0.061,0.091),(0.058,0.074),(0.061,0.064),(0.072,0.064),
           (0.083,0.068),(0.097,0.074),(0.111,0.08),(0.127,0.086),(0.145,0.09),(0.162,0.094),(0.182,0.097),
           (0.201,0.099),(0.221,0.097),(0.241,0.091),(0.26,0.083),(0.28,0.072),(0.297,0.063),(0.311,0.049),
           (0.317,0.035),(0.321,0.021),(0.324,0.007),(0.324,0.0)]
im6_w09 = [(0,0.338),(0.018,0.338),(0.035,0.337),(0.052,0.334),(0.066,0.328),(0.072,0.306),(0.083,0.32),
           (0.097,0.311),(0.108,0.294),(0.117,0.275),(0.12,0.255),(0.117,0.232),(0.114,0.21),(0.114,0.187),
           (0.111,0.167),(0.106,0.148),(0.103,0.128),(0.103,0.108),(0.117,0.113),(0.136,0.116),(0.156,0.118),
           (0.176,0.118),(0.196,0.118),(0.218,0.12),(0.241,0.121),(0.263,0.12),(0.286,0.115),(0.303,0.105),
           (0.314,0.091),(0.303,0.074),(0.32,0.08),(0.328,0.063),(0.334,0.043),(0.337,0.024),(0.338,0.0)]
im6_w10 = [(0,0),(0,0.052),(0.007,0.198),(0.02,0.283),(0.032,0.282),(0.045,0.278),(0.057,0.276),
           (0.069,0.272),(0.083,0.267),(0.097,0.263),(0.108,0.26),(0.12,0.255),(0.131,0.249),(0.139,0.241),
           (0.145,0.227),(0.146,0.21),(0.145,0.193),(0.145,0.181),(0.156,0.183),(0.17,0.183),(0.18,0.176),
           (0.182,0.165),(0.179,0.151),(0.19,0.149),(0.204,0.149),(0.218,0.146),(0.232,0.142),(0.241,0.134),
           (0.249,0.122),(0.255,0.105),(0.26,0.086),(0.268,0.066),(0.275,0.046),(0.28,0.026),(0.196,0.01),
           (0.007,0.002),(0,0)]

panels = [
    ("K=4, Re(c'/c) effectif", [arc_pts, arc_pts, arc_pts, re4_w04, re4_w05, re4_w06, re4_w07, re4_w08, re4_w09, re4_w10]),
    ("K=4, Im(c'/c) effectif", [im4_w01, im4_w02, im4_w03, im4_w04, im4_w05, im4_w06, im4_w07, im4_w08, im4_w09, im4_w10]),
    ("K=5, Re(c'/c) effectif", [arc_pts, arc_pts, arc_pts, re5_w04, re5_w05, re5_w06, re5_w07, re5_w08, re5_w09, re5_w10]),
    ("K=5, Im(c'/c) effectif", [im5_w01, im5_w02, im5_w03, im5_w04, im5_w05, im5_w06, im5_w07, im5_w08, im5_w09, im5_w10]),
    ("K=6, Re(c'/c) effectif", [arc_pts, arc_pts, arc_pts, arc_pts, re6_w05, re6_w06, re6_w07, re6_w08, re6_w09, re6_w10]),
    ("K=6, Im(c'/c) effectif", [im6_w01, im6_w02, im6_w03, im6_w04, im6_w05, im6_w06, im6_w07, im6_w08, im6_w09, im6_w10]),
]

# gnuplot-like styles for the 10 series
ORANGE = '#ff5a1e'
styles = [
    dict(color='#ff0000', ls='-',  marker='+',       ms=7,   mfc='#ff0000'),
    dict(color='#00ee00', ls=(0, (3, 2)), marker='x', ms=5.5, mfc='#00ee00'),
    dict(color='#0000ff', ls=(0, (1.5, 1.5)), marker=(6, 2, 0), ms=7.5, mfc='#0000ff'),
    dict(color='#ff00ff', ls=(0, (1, 1.5)), marker='s', ms=5.5, mfc='none'),
    dict(color='#00ffff', ls=(0, (3, 2)), marker='s', ms=5.5, mfc='#00ffff'),
    dict(color='#ffff00', ls=(0, (1, 1.5)), marker='o', ms=5.5, mfc='none'),
    dict(color='#000000', ls=(0, (1, 1.5)), marker='o', ms=4.5, mfc='#000000'),
    dict(color=ORANGE,    ls=(0, (1, 1.5)), marker='^', ms=5.5, mfc='none'),
    dict(color='#808080', ls=(0, (3, 1.5, 1, 1.5)), marker='^', ms=5,  mfc='#808080'),
    dict(color='#ff0000', ls='-',  marker='v',       ms=5.5, mfc='none'),
]

# axes boxes in figure fraction (left, bottom, width, height)
W, H = 1083.0, 1524.0
left_box = lambda top, bot: [37 / W, 1 - bot / H, 419 / W, (bot - top) / H]
right_box = lambda top, bot: [651 / W, 1 - bot / H, 414 / W, (bot - top) / H]
boxes = [left_box(33, 453), right_box(33, 447),
         left_box(517, 937), right_box(517, 931),
         left_box(1000, 1420), right_box(1000, 1414)]

fig = plt.figure(figsize=(W / 100, H / 100), dpi=100)
fmt = FuncFormatter(lambda v, p: '%g' % round(v, 3))

legend_lines = []
for n, (title, curves) in enumerate(panels):
    ax = fig.add_axes(boxes[n])
    is_re = (n % 2 == 0)
    for i, pts in enumerate(curves):
        xs = [p[0] for p in pts]
        ys = [p[1] for p in pts]
        st = styles[i]
        ln, = ax.plot(xs, ys, color=st['color'], ls=st['ls'], lw=0.9,
                      marker=st['marker'], ms=st['ms'], mfc=st['mfc'], mec=st['color'],
                      mew=0.9, clip_on=False, zorder=3 + i, label=w_labels[i])
        if n == 0:
            legend_lines.append(ln)
    if is_re:
        ax.set_xlim(0, 1)
        ax.set_ylim(0, 1)
        ax.xaxis.set_major_locator(MultipleLocator(0.2))
        ax.yaxis.set_major_locator(MultipleLocator(0.2))
    else:
        ax.set_xlim(0, 0.7)
        ax.set_ylim(0, 0.7)
        ax.xaxis.set_major_locator(MultipleLocator(0.1))
        ax.yaxis.set_major_locator(MultipleLocator(0.1))
    ax.xaxis.set_major_formatter(fmt)
    ax.yaxis.set_major_formatter(fmt)
    ax.grid(True, color='black', ls=(0, (1, 2)), lw=0.6)
    ax.set_axisbelow(True)
    ax.tick_params(direction='in', length=4, width=0.8, top=True, right=True,
                   labelsize=9.5, pad=5)
    for sp in ax.spines.values():
        sp.set_linewidth(1.0)
    ax.set_title(title, fontsize=10, pad=8)

fig.legend(handles=legend_lines, labels=w_labels, loc='center', bbox_to_anchor=(0.492, 0.0138),
           ncol=5, frameon=False, fontsize=13, markerfirst=False, numpoints=1,
           handlelength=2.8, handletextpad=0.5, columnspacing=2.4, labelspacing=-0.03)

fig.savefig('out.png', dpi=100)
